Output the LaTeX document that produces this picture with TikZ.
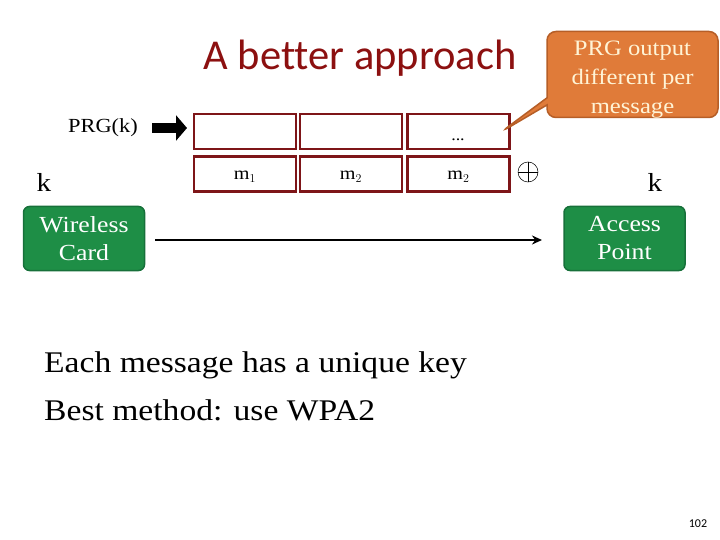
\documentclass[tikz,border=0pt]{standalone}
\usepackage{fontspec}
\setmainfont{Liberation Serif}[FakeStretch=1.12]
\newfontfamily\titlefont{Carlito}[Ligatures=NoCommon]
\newfontfamily\pagefont{Carlito}
\usetikzlibrary{arrows.meta,shapes.callouts}
\definecolor{boxred}{HTML}{7E1518}
\definecolor{titlered}{HTML}{8C1010}
\definecolor{gfill}{HTML}{1E8E46}
\definecolor{gline}{HTML}{17703A}
\definecolor{ofill}{HTML}{E07B39}
\definecolor{oline}{HTML}{B65E27}
\definecolor{cream}{HTML}{FFF4D6}
\tikzset{
  keybox/.style={draw=boxred, line width=2.6pt, minimum width=102pt, minimum height=35pt, inner sep=0pt},
  keytext/.style={inner sep=0pt, font=\fontsize{18}{20}\selectfont},
  device/.style={draw=gline, line width=1.5pt, fill=gfill, rounded corners=6pt, minimum width=121pt, minimum height=64pt, text=white, align=center, font=\fontsize{23}{28}\selectfont},
  plain/.style={inner sep=0pt}
}
\begin{document}
\begin{tikzpicture}[x=1pt,y=-1pt]
\useasboundingbox (0,0) rectangle (720,540);
\node[plain, text=titlered, font=\titlefont\fontsize{42.5}{46}\selectfont] (title) at (360,58) {A better approach};
\node[plain, font=\fontsize{20}{24}\selectfont] (prg) at (103,128) {PRG(k)};
\coordinate (arrs) at (152,128);
\coordinate (arre) at (187,128);
\node[keybox] (t1) at (245,131.5) {};
\node[keybox] (t2) at (351,131.5) {};
\node[keybox] (t3) at (458.5,131.5) {};
\node[plain, anchor=base, font=\fontsize{16}{18}\selectfont] (dots) at (458,141) {...};
\node[keybox] (b1) at (245,174) {};
\node[keybox] (b2) at (351,174) {};
\node[keybox] (b3) at (458.5,174) {};
\node[keytext] (m1) at (245,177) {m$_1$};
\node[keytext] (m2) at (351,177) {m$_2$};
\node[keytext] (m3) at (458.5,177) {m$_2$};
\draw[-{Triangle[length=11pt,width=25pt]}, line width=10pt] (arrs) -- (arre);
\node[draw, circle, minimum size=20pt, inner sep=0pt, line width=0.5pt] (xor) at (528,172) {};
\draw[line width=0.5pt] (xor.north) -- (xor.south) (xor.west) -- (xor.east);
\node[plain, font=\fontsize{26}{30}\selectfont] (kl) at (44,182) {k};
\node[plain, font=\fontsize{26}{30}\selectfont] (kr) at (655,182) {k};
\node[device] (wc) at (84,238.5) {Wireless\\Card};
\node[device] (ap) at (624.5,238.5) {Access\\Point};
\draw[-{Stealth[length=10pt,width=9pt]}, line width=2pt] (wc.east) ++(10,1.5) coordinate (ws) (ws) -- (542,240) coordinate (we);
\coordinate (tip) at (501,132);
\node[rectangle callout, callout absolute pointer={(tip)}, draw=oline, line width=1.5pt, fill=ofill, rounded corners=9pt, minimum width=171pt, minimum height=86pt] (call) at (632.5,74.5) {};
\node[plain, text=cream, align=center, font=\fontsize{22}{29}\selectfont] (calltext) at (632.5,80) {PRG output\\different per\\message};
\node[plain, anchor=west, font=\fontsize{30}{45}\selectfont] (l1) at (44,365) {Each message has a unique key};
\node[plain, anchor=west, font=\fontsize{30}{45}\selectfont] (l2) at (44,410) {Best method: use WPA2};
\node[plain, font=\pagefont\fontsize{12}{14}\selectfont] (pg) at (698,524) {102};
\end{tikzpicture}
\end{document}
